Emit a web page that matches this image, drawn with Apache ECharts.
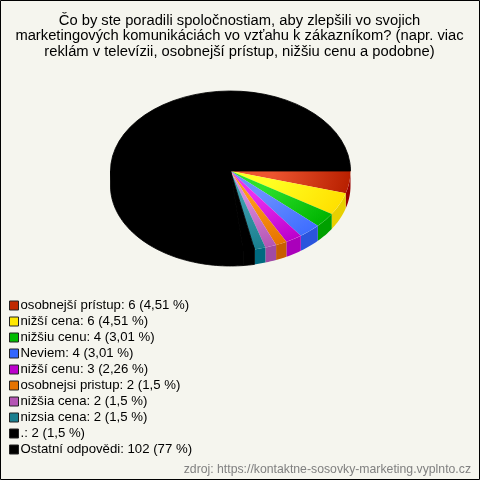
<!DOCTYPE html>
<html><head><meta charset="utf-8">
<style>html,body{margin:0;padding:0;background:#f5f5ee}#c{width:480px;height:480px}</style>
<script src="https://cdn.jsdelivr.net/npm/echarts@6/dist/echarts.min.js"></script>
</head><body><div id="c"></div>
<script>
const categories = ['osobnejší prístup','nižší cena','nižšiu cenu','Neviem','nižší cenu','osobnejsi pristup','nižšia cena','nizsia cena','.','Ostatní odpovědi'];
const values = [6,6,4,4,3,2,2,2,2,102];
const percents = ['4,51','4,51','3,01','3,01','2,26','1,5','1,5','1,5','1,5','77'];
const baseColors = ['#b82000','#ffe000','#00b400','#3f6eff','#bb00cc','#e67300','#b455b4','#1a7f8f','#000000','#000000'];
const innerColors = ['#ec5530','#ffff22','#2ce02c','#6a90ff','#e830f0','#ff9a18','#d888d8','#3c9cac','#000000','#000000'];
const sideColors = ['#990000','#e8d000','#00a000','#2a55dd','#aa00bb','#c85e00','#a04aa4','#006a80','#000000','#000000'];
const legendColors = ['#c02800','#ffe800','#00bb00','#3366ff','#bb00cc','#e67300','#b455b4','#1a7f8f','#000000','#000000'];
const title = 'Čo by ste poradili spoločnostiam, aby zlepšili vo svojich\nmarketingových komunikáciách vo vzťahu k zákazníkom? (napr. viac\nreklám v televízii, osobnejší prístup, nižšiu cenu a podobne)';
const credit = 'zdroj: https://kontaktne-sosovky-marketing.vyplnto.cz';

const CX = 230.5, CY = 171, RX = 120, RY = 80, DEPTH = 15;
const total = values.reduce((a, b) => a + b, 0);
const legendText = {};
categories.forEach((c, i) => { legendText[c] = c + ': ' + values[i] + ' (' + percents[i] + ' %)'; });

function makeRender(i) {
  const before = values.slice(0, i).reduce((a, b) => a + b, 0);
  const a0 = before / total * Math.PI * 2;
  const a1 = (before + values[i]) / total * Math.PI * 2;
  const solid = baseColors[i] === sideColors[i];
  return function () {
    const children = [];
    const s0 = Math.min(a0, Math.PI), s1 = Math.min(a1, Math.PI);
    if (s1 > s0) {
      const top = [], inset = [], bottom = [];
      const n = Math.max(2, Math.ceil((s1 - s0) * 40));
      for (let k = 0; k <= n; k++) {
        const t = s0 + (s1 - s0) * k / n;
        const c = Math.cos(t), s = Math.sin(t);
        top.push([CX + RX * c, CY + RY * s]);
        inset.push([CX + 0.95 * RX * c, CY + 0.95 * RY * s]);
        bottom.unshift([CX + RX * c, CY + RY * s + DEPTH]);
      }
      // solid slices tuck their upper edge under the top face so no seam shows
      const upper = solid ? [top[0]].concat(inset, [top[n]]) : top;
      children.push({ type: 'polygon', shape: { points: upper.concat(bottom) },
        style: { fill: sideColors[i], stroke: solid ? sideColors[i] : null, lineWidth: 0.8 } });
    }
    children.push({
      type: 'sector', x: CX, y: CY, scaleY: RY / RX,
      shape: { cx: 0, cy: 0, r0: 0, r: RX, startAngle: a0, endAngle: a1, clockwise: true },
      style: { fill: new echarts.graphic.RadialGradient(0, 0, RX, [
        { offset: 0, color: innerColors[i] }, { offset: 0.35, color: innerColors[i] }, { offset: 1, color: baseColors[i] }], true),
        stroke: solid ? baseColors[i] : null, lineWidth: 1 }
    });
    return { type: 'group', children };
  };
}

const chart = echarts.init(document.getElementById('c'), null, { renderer: 'canvas' });
chart.setOption({
  animation: false,
  backgroundColor: '#f5f5ee',
  title: { text: title, left: 239.5, top: 13, padding: 0, textAlign: 'center',
    textStyle: { fontFamily: 'Liberation Sans', fontSize: 14.75, fontWeight: 'normal', color: '#000', lineHeight: 15.5 } },
  legend: {
    orient: 'vertical', left: 4, top: 296, padding: [3, 5], itemGap: 3, itemWidth: 9, itemHeight: 9, icon: 'rect',
    selectedMode: false,
    data: categories,
    formatter: n => legendText[n],
    itemStyle: { borderColor: '#222', borderWidth: 1 },
    textStyle: { fontFamily: 'Liberation Sans', fontSize: 13.2, color: '#000', padding: [0, 0, 0, -3], lineHeight: 12 }
  },
  series: categories.map((c, i) => ({
    type: 'custom', name: c, coordinateSystem: 'none', silent: true,
    data: [values[i]], renderItem: makeRender(i),
    itemStyle: { color: legendColors[i] }
  })),
  graphic: [
    { type: 'rect', shape: { x: 0.5, y: 0.5, width: 479, height: 479 }, style: { fill: 'none', stroke: '#000', lineWidth: 1 }, z: 100 },
    { type: 'text', right: 9, top: 464, style: { text: credit, fontFamily: 'Liberation Sans', fontSize: 12.25, fill: '#808080' } }
  ]
});
</script></body></html>
